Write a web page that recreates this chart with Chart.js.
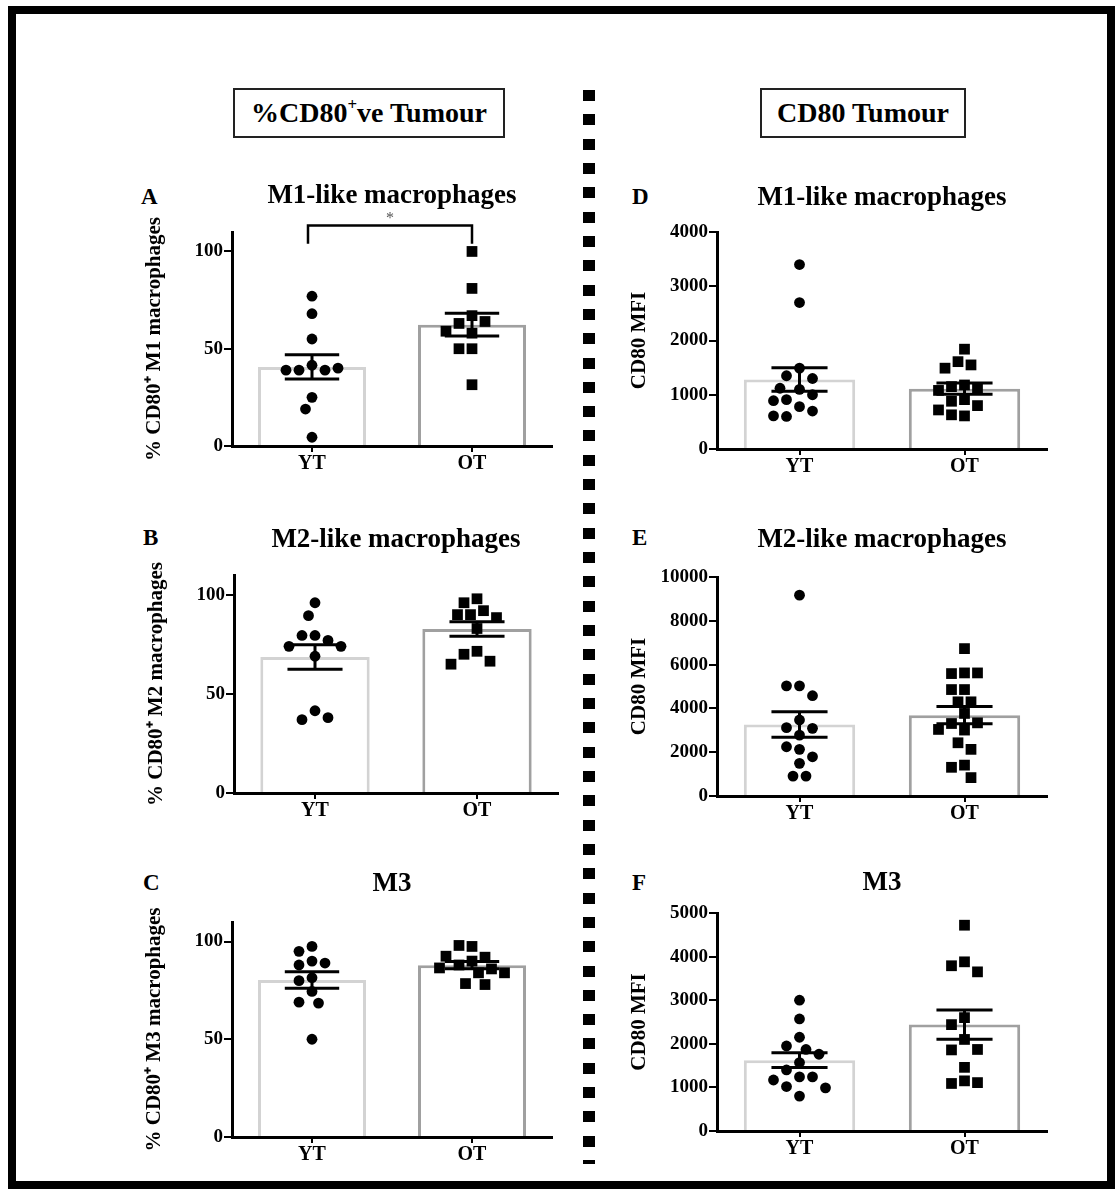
<!DOCTYPE html>
<html>
<head>
<meta charset="utf-8">
<script src="https://cdn.jsdelivr.net/npm/chart.js@4.4.1/dist/chart.umd.min.js"></script>
<style>
  body { margin: 0; background: #fff; }
  #page { position: relative; width: 1117px; height: 1189px; overflow: hidden; background: #fff;
    font-family: 'Liberation Serif', 'Times New Roman', serif; font-weight: bold; color: #000; }
  .frame { position: absolute; left: 8px; top: 6px; width: 1107px; height: 1183px; border: 8px solid #000; box-sizing: border-box; }
  .sep { position: absolute; left: 583px; top: 90px; width: 12px; height: 1074px;
    background: repeating-linear-gradient(to bottom, #000 0px, #000 11px, transparent 11px, transparent 24.32px); }
  .head { position: absolute; top: 88px; height: 50px; border: 2px solid #222; box-sizing: border-box;
    display: flex; align-items: center; justify-content: center; font-size: 28px; line-height: 1; }
  .head .sup { font-size: 60%; position: relative; top: -0.45em; }
  .letter { position: absolute; font-size: 23px; line-height: 1; }
  canvas { position: absolute; }
</style>
</head>
<body>
<div id="page">
  <div class="frame"></div>
  <div class="sep"></div>
  <div class="head" style="left:233px;width:272px">%CD80<span class="sup">+</span>ve Tumour</div>
  <div class="head" style="left:760px;width:206px">CD80 Tumour</div>
</div>
<script>
const groups = ['YT', 'OT'];
const panelLetters = ['A', 'B', 'C', 'D', 'E', 'F'];
const panelTitles = ['M1-like macrophages', 'M2-like macrophages', 'M3', 'M1-like macrophages', 'M2-like macrophages', 'M3'];
const yTitles = ['% CD80\u207A M1 macrophages', '% CD80\u207A M2 macrophages', '% CD80\u207A M3 macrophages', 'CD80 MFI', 'CD80 MFI', 'CD80 MFI'];

// % CD80+ cells (left column)
const m1PctYT = [77, 68, 55, 41.5, 39, 39, 39, 40, 25, 19, 4.5];
const m1PctOT = [100, 81, 67, 63, 64, 58, 59, 50, 50, 31.5];
const m2PctYT = [96, 89.5, 79.5, 79.5, 77, 74, 74, 69, 41.5, 37, 38];
const m2PctOT = [98, 96, 92, 90, 90, 88.5, 83, 71.5, 70, 66.5, 65];
const m3PctYT = [97.5, 95, 90, 89, 88, 81.5, 80, 74.5, 69, 68.5, 50];
const m3PctOT = [97.5, 98, 92, 92.5, 90, 88, 86, 86.5, 84, 84, 78.5, 78];

// CD80 MFI (right column)
const m1MfiYT = [3400, 2700, 1490, 1350, 1300, 1100, 1120, 1000, 910, 890, 780, 700, 600, 610];
const m1MfiOT = [1840, 1610, 1550, 1490, 1180, 1150, 1120, 1080, 910, 880, 800, 720, 610, 630];
const m2MfiYT = [9170, 5030, 5030, 4580, 3470, 3120, 3090, 2780, 2130, 2250, 1790, 1490, 910, 910];
const m2MfiOT = [6730, 5620, 5590, 5620, 4860, 4860, 4300, 4300, 3770, 3310, 3340, 3010, 3040, 2430, 2130, 1410, 1310, 840];
const m3MfiYT = [3000, 2570, 2150, 1950, 1870, 1760, 1570, 1400, 1240, 1240, 1170, 1020, 990, 800];
const m3MfiOT = [4720, 3880, 3790, 3650, 2600, 2440, 2100, 1860, 1870, 1460, 1150, 1090, 1110];

const pctTicks = [0, 50, 100];
const m1MfiTicks = [0, 1000, 2000, 3000, 4000];
const m2MfiTicks = [0, 2000, 4000, 6000, 8000, 10000];
const m3MfiTicks = [0, 1000, 2000, 3000, 4000, 5000];

const panelSeries = [[m1PctYT, m1PctOT], [m2PctYT, m2PctOT], [m3PctYT, m3PctOT],
                     [m1MfiYT, m1MfiOT], [m2MfiYT, m2MfiOT], [m3MfiYT, m3MfiOT]];
const panelTicks = [pctTicks, pctTicks, pctTicks, m1MfiTicks, m2MfiTicks, m3MfiTicks];
const panelMax = [110, 110, 110, 4000, 10000, 5000];

// significance bracket on panel A (YT vs OT)
const sigPanel = 0, sigTop = 113.4, sigDrop = 104, sigLabel = '*';

// plot area of each panel on the page (px)
const layout = [
  { L: 232, T: 232, R: 552, B: 446, gap: 36, lx: 141, lb: 204 },
  { L: 234, T: 575, R: 558, B: 793, gap: 35, lx: 143, lb: 545 },
  { L: 232, T: 922, R: 552, B: 1137, gap: 38, lx: 143, lb: 890 },
  { L: 717, T: 232, R: 1047, B: 449, gap: 34, lx: 632, lb: 204 },
  { L: 717, T: 577, R: 1047, B: 796, gap: 37, lx: 632, lb: 545 },
  { L: 717, T: 913, R: 1047, B: 1131, gap: 30, lx: 632, lb: 890 }
];

const serif = "'Liberation Serif', 'Times New Roman', serif";
const titleSize = 27, yTitleSize = 21;

function mean(a) { return a.reduce((s, v) => s + v, 0) / a.length; }
function sem(a) {
  const m = mean(a);
  const sd = Math.sqrt(a.reduce((s, v) => s + (v - m) * (v - m), 0) / (a.length - 1));
  return sd / Math.sqrt(a.length);
}

// simple beeswarm: nearest free horizontal slot for each dot (pixel space)
function swarm(ys, minDist, step) {
  const placed = [];
  return ys.map(y => {
    for (let k = 0; k < 200; k++) {
      const off = (k % 2 ? -1 : 1) * Math.ceil(k / 2) * step;
      if (placed.every(p => Math.hypot(p.x - off, p.y - y) >= minDist)) {
        placed.push({ x: off, y });
        return off;
      }
    }
    return 0;
  });
}

function meanSemPlugin(series, withSig) {
  return {
    id: 'meanSem',
    afterDatasetsDraw(chart) {
      const { ctx, scales: { x, y } } = chart;
      const capHalf = (x.getPixelForValue(1) - x.getPixelForValue(0)) * 0.17;
      ctx.save();
      ctx.strokeStyle = '#000';
      ctx.lineWidth = 3;
      series.forEach((vals, gi) => {
        const m = mean(vals), s = sem(vals);
        const cx = x.getPixelForValue(gi);
        const yt = y.getPixelForValue(m + s), yb = y.getPixelForValue(m - s);
        ctx.beginPath();
        ctx.moveTo(cx, yt); ctx.lineTo(cx, yb);
        ctx.moveTo(cx - capHalf, yt); ctx.lineTo(cx + capHalf, yt);
        ctx.moveTo(cx - capHalf, yb); ctx.lineTo(cx + capHalf, yb);
        ctx.stroke();
      });
      if (withSig) {
        const x0 = x.getPixelForValue(0) - 4, x1 = x.getPixelForValue(1);
        const yt = y.getPixelForValue(sigTop), yd = y.getPixelForValue(sigDrop);
        ctx.lineWidth = 2.5;
        ctx.beginPath();
        ctx.moveTo(x0, yd); ctx.lineTo(x0, yt); ctx.lineTo(x1, yt); ctx.lineTo(x1, yd);
        ctx.stroke();
        ctx.fillStyle = '#555';
        ctx.font = '16px ' + serif;
        ctx.textAlign = 'center';
        ctx.textBaseline = 'alphabetic';
        ctx.fillText(sigLabel, (x0 + x1) / 2, yt - 2);
      }
      ctx.restore();
    }
  };
}

function makePanel(i) {
  const g = layout[i];
  const series = panelSeries[i];
  const page = document.getElementById('page');

  const letter = document.createElement('div');
  letter.className = 'letter';
  letter.textContent = panelLetters[i];
  letter.style.left = g.lx + 'px';
  letter.style.top = (g.lb - 19.3) + 'px';
  page.appendChild(letter);

  const W = g.R - g.L + 102 + 16, H = g.B - g.T + 56 + 42;
  const cv = document.createElement('canvas');
  cv.width = W; cv.height = H;
  cv.style.left = (g.L - 102) + 'px';
  cv.style.top = (g.T - 56) + 'px';
  cv.style.width = W + 'px';
  cv.style.height = H + 'px';
  page.appendChild(cv);

  const lh = titleSize * 1.2;
  const pt = 56 - g.gap - lh / 2;
  const pb = 56 - pt - lh;
  const axisGrid = (len) => ({ drawOnChartArea: false, drawTicks: true, tickLength: len, color: '#000', lineWidth: 2, offset: false });
  const axisBorder = { display: true, color: '#000', width: 3 };

  const chart = new Chart(cv, {
    type: 'scatter',
    data: {
      datasets: [
        { type: 'bar', data: series.map((v, gi) => ({ x: gi, y: mean(v) })),
          backgroundColor: '#fff', borderColor: ['#d3d3d3', '#a0a0a0'], borderWidth: 3,
          barPercentage: 0.9, categoryPercentage: 0.75, order: 3 },
        { data: series[0].map(v => ({ x: 0, y: v })), pointStyle: 'circle', pointRadius: 5.4,
          pointBackgroundColor: '#000', pointBorderWidth: 0, order: 1 },
        { data: series[1].map(v => ({ x: 1, y: v })), pointStyle: 'rect', pointRadius: 7.6,
          pointBackgroundColor: '#000', pointBorderWidth: 0, order: 2 }
      ]
    },
    options: {
      responsive: false,
      animation: false,
      events: [],
      layout: { padding: { left: 0, right: 16, top: 0, bottom: 0 } },
      plugins: {
        legend: { display: false },
        tooltip: { enabled: false },
        title: { display: true, text: panelTitles[i], color: '#000', fullSize: false,
          font: { family: serif, size: titleSize, weight: 'bold', lineHeight: 1.2 },
          padding: { top: pt, bottom: pb } }
      },
      scales: {
        x: {
          type: 'linear', min: -0.5, max: 1.5, offset: false,
          afterBuildTicks: s => { s.ticks = groups.map((_, k) => ({ value: k })); },
          afterFit: s => { s.height = 42; },
          ticks: { callback: v => groups[v], color: '#000', autoSkip: false, maxRotation: 0, padding: 0,
            font: { family: serif, size: 20, weight: 'bold' } },
          grid: axisGrid(6),
          border: axisBorder
        },
        y: {
          type: 'linear', min: 0, max: panelMax[i],
          afterBuildTicks: s => { s.ticks = panelTicks[i].map(v => ({ value: v })); },
          afterFit: s => { s.width = 102; },
          ticks: { callback: v => String(v), color: '#000', padding: 1,
            font: { family: serif, size: 19, weight: 'bold' } },
          grid: axisGrid(8),
          border: axisBorder,
          title: { display: true, text: yTitles[i], color: '#000',
            font: { family: serif, size: yTitleSize, weight: 'bold', lineHeight: 1.2 },
            padding: { top: 25 - yTitleSize * 0.6, bottom: 0 } }
        }
      }
    },
    plugins: [meanSemPlugin(series, i === sigPanel)]
  });

  // spread the dots sideways now that the scales are known
  const { x, y } = chart.scales;
  const pxY = Math.abs(y.getPixelForValue(1) - y.getPixelForValue(0));
  const pxX = x.getPixelForValue(1) - x.getPixelForValue(0);
  series.forEach((vals, gi) => {
    const offs = swarm(vals.map(v => v * pxY), 13, 6.5);
    chart.data.datasets[gi + 1].data = vals.map((v, k) => ({ x: gi + offs[k] / pxX, y: v }));
  });
  chart.update();
}

Chart.defaults.font.family = serif;
Chart.defaults.color = '#000';
layout.forEach((_, i) => makePanel(i));
</script>
</body>
</html>
